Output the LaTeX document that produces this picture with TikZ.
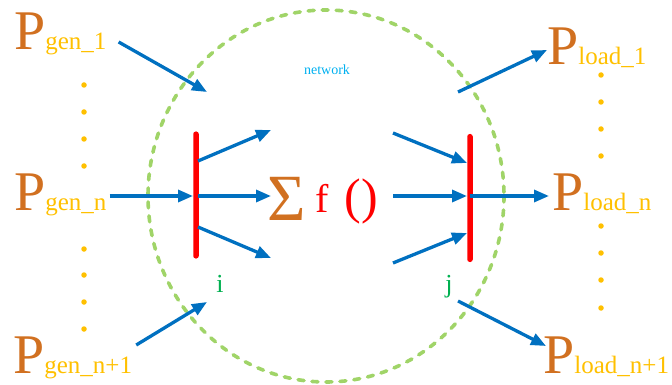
\documentclass[tikz,border=0pt]{standalone}
\usepackage{fontspec}
\setmainfont{Liberation Serif}
\usepackage{xcolor}
\usepackage{tikz}
\usetikzlibrary{arrows.meta, positioning, calc}
\definecolor{powerOrange}{RGB}{209, 112, 32}
\definecolor{subGold}{RGB}{255, 192, 0}
\definecolor{flowBlue}{RGB}{0, 112, 192}
\definecolor{busRed}{RGB}{255, 0, 0}
\definecolor{ringGreen}{RGB}{160, 212, 104}
\definecolor{busGreen}{RGB}{0, 176, 80}
\definecolor{netBlue}{RGB}{0, 176, 240}

\newcommand{\subtxt}[1]{\textcolor{subGold}{\fontsize{25}{25}\selectfont #1}}

\begin{document}
\begin{tikzpicture}[
  x=1pt, y=-1pt,
  pterm/.style={inner sep=0pt, anchor=base west, text=powerOrange, font=\fontsize{56}{56}\selectfont},
  bus/.style={rectangle, fill=busRed, rounded corners=2.5pt, minimum width=5.5pt, inner sep=0pt},
  busname/.style={inner sep=0pt, anchor=base, text=busGreen, font=\fontsize{26}{26}\selectfont},
  flow/.style={draw=flowBlue, line width=3.3pt, -{Triangle[length=15pt, width=12pt]}},
  ring/.style={draw=ringGreen, line width=3.6pt, dash pattern=on 6pt off 8pt, line cap=round},
  dot/.style={circle, fill=subGold, inner sep=0pt, minimum size=5.5pt}
]
  \useasboundingbox (0,0) rectangle (672,385);

  % network boundary
  \draw[ring] (326,196) ellipse [x radius=178, y radius=186];
  \node[inner sep=0pt, anchor=base, text=netBlue, font=\fontsize{14}{14}\selectfont] (net) at (327,75) {network};

  % generators
  \node[pterm] (pgen1) at (14,50) {P\subtxt{gen\_1}};
  \node[pterm] (pgenn) at (14,210) {P\subtxt{gen\_n}};
  \node[pterm] (pgenlast) at (13,373) {P\subtxt{gen\_n+1}};

  % loads
  \node[pterm] (pload1) at (547,65) {P\subtxt{load\_1}};
  \node[pterm] (ploadn) at (552,210) {P\subtxt{load\_n}};
  \node[pterm] (ploadlast) at (543,373) {P\subtxt{load\_n+1}};

  % dots
  \foreach \y in {85,112,139,166,249,275,302,329}
    \node[dot] at (84,\y) {};
  \foreach \y in {75,102,129,156,226,253,280,308}
    \node[dot] at (601,\y) {};

  % buses
  \node[bus, minimum height=127pt] (busi) at (196,195) {};
  \node[bus, minimum height=128pt] (busj) at (470,198) {};
  \node[busname] (lbli) at (220,292) {i};
  \node[busname] (lblj) at (449,292) {j};

  % sum of flows
  \node[inner sep=0pt, anchor=base, text=powerOrange, font=\fontsize{66}{66}\selectfont] (sigma) at (287,220) {Σ};
  \node[inner sep=0pt, anchor=base, text=busRed, font=\fontsize{40}{40}\selectfont] (func) at (322,212) {f};
  \node[inner sep=0pt, anchor=base, text=busRed, font=\fontsize{50}{50}\selectfont] (paren) at (361,213) {()};

  % end points inside the network
  \coordinate (g1end) at (207,92);
  \coordinate (glastend) at (207,302);
  \coordinate (iup) at (271,130);
  \coordinate (imid) at (271,196);
  \coordinate (ilow) at (271,258);
  \coordinate (jup) at (393,133);
  \coordinate (jmid) at (393,196);
  \coordinate (jlow) at (393,263);
  \coordinate (l1start) at (458,92);
  \coordinate (llaststart) at (458,301);

  % connections
  \path[flow] ($(pgen1.base east)+(12,-8)$) -- (g1end);
  \path[flow] ($(pgenn.base east)+(3,-14)$) -- ($(busi.center)+(-3,1)$);
  \path[flow] ($(pgenlast.base east)+(4,-28)$) -- (glastend);
  \path[flow] ($(busi.center)+(2,-34)$) -- (iup);
  \path[flow] ($(busi.center)+(2,1)$) -- (imid);
  \path[flow] ($(busi.center)+(2,32)$) -- (ilow);
  \path[flow] (jup) -- ($(busj.center)+(-3,-35)$);
  \path[flow] (jmid) -- ($(busj.center)+(-3,-2)$);
  \path[flow] (jlow) -- ($(busj.center)+(-3,35)$);
  \path[flow] ($(busj.center)+(0,-2)$) -- ($(ploadn.base west)+(-3,-14)$);
  \path[flow] (l1start) -- ($(pload1.base west)+(0,-15)$);
  \path[flow] (llaststart) -- ($(ploadlast.base west)+(3,-27)$);

\end{tikzpicture}
\end{document}
